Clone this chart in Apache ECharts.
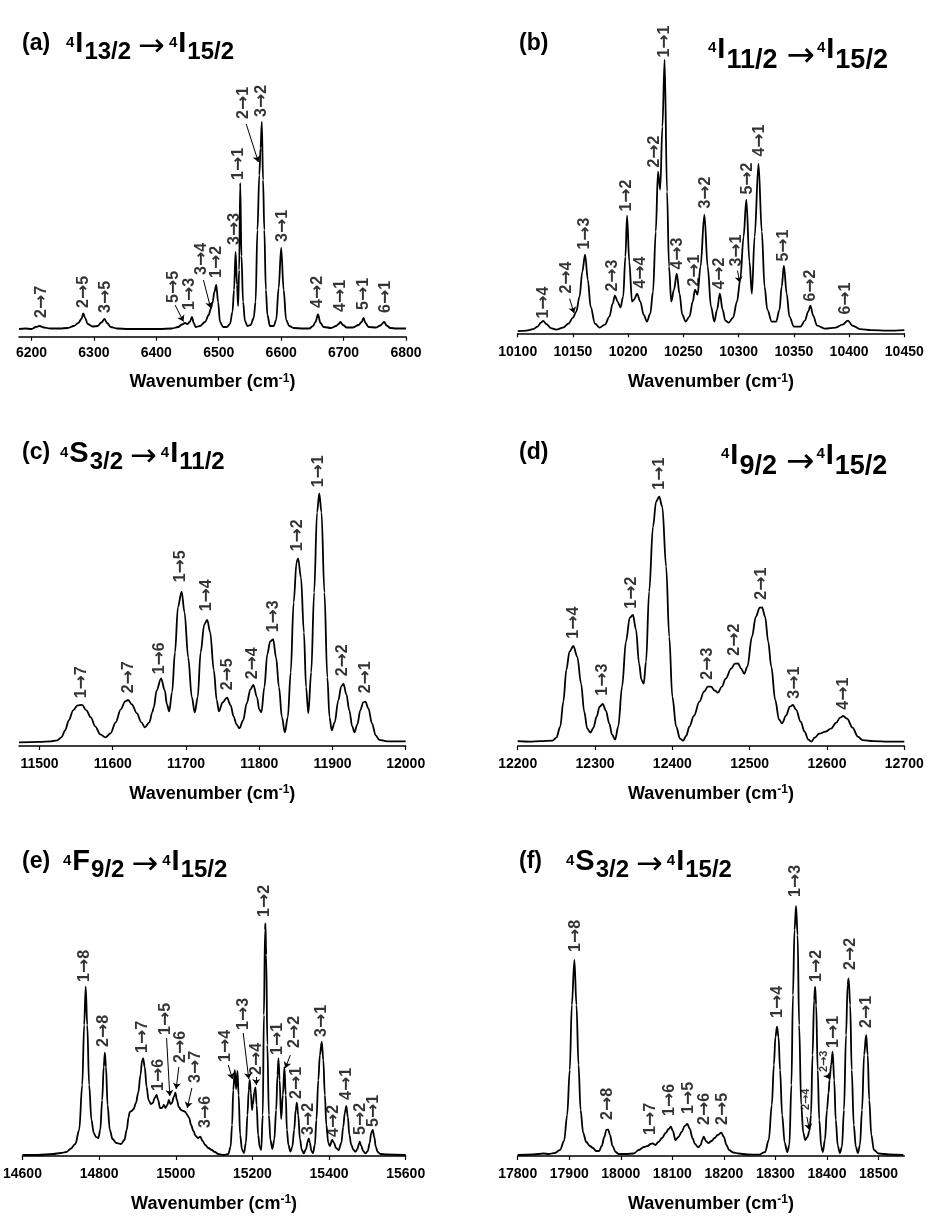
<!DOCTYPE html>
<html><head><meta charset="utf-8">
<script src="https://cdn.jsdelivr.net/npm/echarts@6/dist/echarts.min.js"></script>
<style>html,body{margin:0;padding:0;background:#fff}#c{width:932px;height:1228px}</style>
</head><body><div id="c"></div>
<script>
// ---------- DATA (wavenumber cm-1, intensity a.u.) ----------
const specA = [[6180,1],[6190,1.5],[6200,1],[6207,3],[6213,4],[6220,2.5],[6230,1.5],[6245,1.5],[6258,2],[6268,4],[6275,7],[6280,11],[6283,16.5],[6286,12],[6290,6],[6298,3.5],[6306,4],[6312,7.5],[6317,11],[6321,7],[6327,3],[6337,1.5],[6355,1],[6380,1],[6405,1],[6425,1.5],[6435,3],[6441,5.5],[6446,7],[6450,6],[6454,8.5],[6457,13],[6460,7],[6463,3],[6470,4],[6478,8],[6484,15],[6487,21],[6490,27],[6493,38],[6496,45],[6499,28],[6502,8],[6507,3],[6513,3],[6518,6],[6522,18],[6524.5,40],[6527,78],[6529.3,45],[6531,24],[6532.7,60],[6534.4,147],[6536.4,74],[6539,28],[6542,9],[6546,4],[6551,5],[6556,12],[6559,28],[6562,100],[6565,155],[6567,182],[6569,208],[6571,150],[6573,100],[6575.5,40],[6578,15],[6582,4],[6588,4],[6592,10],[6596,42],[6600,82],[6604,40],[6608,10],[6613,4],[6620,2],[6635,1.5],[6645,1.5],[6651,4],[6655,8],[6659,15.5],[6663,7],[6668,3],[6680,2],[6688,4],[6692,6],[6695,8],[6699,5],[6705,2.5],[6715,2.5],[6724,5],[6729,8],[6732,12],[6735,7],[6740,3],[6752,2.5],[6759,4.5],[6765,8],[6769,4.5],[6775,2],[6785,1.5],[6800,1.5]];
const specB = [[10100,0.5],[10108,1],[10114,2.5],[10118,5],[10121,9],[10123,10.7],[10126,7.5],[10130,3.5],[10135,2],[10141,4],[10146,8],[10150,14],[10153,20],[10156,35],[10158.5,60],[10161,77],[10163.5,52],[10166,25],[10170,8],[10174,4],[10179,7],[10183,15],[10186,28],[10188,36],[10190.5,30],[10193,24],[10195.5,35],[10197.5,75],[10199,116],[10201,70],[10203.5,30],[10205.5,32],[10208,38],[10211,30],[10214,17],[10217,10],[10220,18],[10222.5,40],[10225,100],[10227,160],[10229,142],[10231,205],[10233,272],[10235.2,140],[10237,65],[10239,30],[10241.5,42],[10244,58],[10246.5,38],[10249,17],[10252,10],[10255.5,15],[10258.5,30],[10260.5,42],[10262.8,37],[10265.5,65],[10269,117],[10272,65],[10275,25],[10278,10],[10280.5,22],[10283,38],[10285.5,22],[10288,11],[10291,9],[10295,14],[10298.5,30],[10301.5,52],[10304.5,95],[10307,132],[10309.8,70],[10312,38],[10314.5,95],[10318,168],[10321,100],[10323.5,45],[10326,22],[10330,10],[10334,10],[10337,22],[10339,45],[10341,66],[10343.5,38],[10346,15],[10350,5],[10356,5],[10360,11],[10363,20],[10365,26],[10367.5,16],[10371,6],[10378,3],[10388,4],[10394,7],[10399,11],[10403,6],[10410,2.5],[10420,1.5],[10435,1],[10450,1.5]];
const specC = [[11472,0],[11500,0.5],[11515,1],[11524,2],[11530,5],[11535,12],[11540,22],[11546,32],[11552,37],[11558,37.5],[11564,32],[11570,25],[11576,16],[11583,8],[11590,5],[11597,9],[11604,20],[11611,33],[11617,41],[11621,42.3],[11626,38],[11633,29],[11639,20],[11644,15],[11650,20],[11654,30],[11656,35],[11660,52],[11666,64],[11671,52],[11674,38],[11677,31],[11681,50],[11685,90],[11689,135],[11694,150.7],[11698,130],[11703,85],[11708,45],[11712,30],[11716,45],[11720,90],[11725,118],[11729,122.3],[11733,110],[11738,72],[11742,42],[11745,31],[11750,40],[11756,44.7],[11761,37],[11765,26],[11769,18],[11773,14],[11778,22],[11783,39],[11788,53],[11792,57.3],[11797,45],[11800,33],[11803,30],[11807,55],[11811,88],[11815,101],[11819,103],[11823,85],[11827,55],[11831,25],[11835,10],[11839,25],[11843,70],[11847,140],[11851,180],[11853,184],[11857,165],[11861,110],[11864,55],[11867,29],[11871,70],[11875,150],[11879,230],[11882,249],[11885,230],[11889,150],[11893,65],[11896,25],[11899,12],[11903,20],[11908,42],[11912,56],[11915,58.3],[11919,48],[11923,32],[11927,16],[11930,10],[11934,18],[11938,32],[11942,40],[11945,40.7],[11949,34],[11954,19],[11959,7],[11964,2.5],[11975,1],[12000,1]];
const specD = [[12200,0.5],[12215,0],[12230,0.5],[12245,1],[12250,4],[12255,15],[12259,40],[12263,72],[12267,90],[12272,95.7],[12277,85],[12282,58],[12286,30],[12290,13],[12294,9],[12298,14],[12302,25],[12306,35],[12310,37.7],[12314,31],[12318.5,18],[12322,7],[12326,2],[12330,15],[12335,55],[12340,100],[12345,124],[12349,126.7],[12353,112],[12357,78],[12360,62],[12363,58],[12366,80],[12370,150],[12375,215],[12379,240],[12383,245],[12387,235],[12392,175],[12396,105],[12400,45],[12405,15],[12410,3],[12414,1],[12418,6],[12422,15],[12428,26],[12435,40],[12441,50],[12446,55],[12450,55],[12455,51],[12459,49],[12464,55],[12469,63],[12476,73],[12481,78],[12485,78.3],[12489,73],[12493,68],[12497,75],[12503,105],[12508,125],[12513,134],[12516,134.3],[12520,125],[12524,100],[12528,75],[12533,42],[12538,22],[12542,18.3],[12547,26],[12552,35],[12556,36.7],[12560,32],[12566,20],[12571,10],[12576,2],[12580,0],[12584,4],[12590,8],[12598,10],[12605,13],[12612,19],[12617,24],[12621,25.7],[12626,23],[12633,14],[12640,5],[12646,1.5],[12660,0.5],[12680,0],[12700,0]];
const specE = [[14600,0],[14640,0],[14680,1],[14700,2],[14715,3],[14725,6],[14738,11],[14748,25],[14756,70],[14761,130],[14765,168.3],[14769,130],[14774,70],[14780,35],[14786,22],[14792,18],[14798,17],[14803,25],[14808,55],[14812,88],[14815,102.3],[14818,88],[14822,50],[14828,25],[14835,16],[14845,12],[14857,11],[14866,15],[14872,25],[14877,38],[14880,43],[14885,44],[14890,46],[14896,52],[14902,62],[14908,80],[14912,94],[14915,96.7],[14919,88],[14924,68],[14929,55],[14935,51],[14940,52],[14945,57],[14950,60],[14954,55],[14959,47],[14964,47],[14969,50],[14973,47],[14978,50],[14982,55],[14986,51],[14990,52],[14995,58],[14999,62.3],[15003,55],[15008,48],[15014,45],[15020,44],[15025,43],[15030,40],[15035,37],[15040,30],[15046,24],[15052,19],[15058,17],[15064,18.3],[15070,14],[15077,10],[15085,7],[15094,5],[15102,3],[15111,1],[15125,0],[15137,1],[15143,8],[15147,30],[15150,65],[15154,85],[15157.5,66],[15161,84],[15164,60],[15168,20],[15173,5],[15178,2],[15183,12],[15187,40],[15190.5,65],[15193,75],[15196,62],[15199,45],[15201,50],[15205,63],[15208,67.7],[15211,50],[15215,20],[15219,8],[15223,5],[15227,40],[15230,140],[15233,225],[15234,231.7],[15236,200],[15239,110],[15243,40],[15247,15],[15252,6],[15257,15],[15262,45],[15265.5,80],[15268,96.7],[15271,75],[15275,36],[15279.5,60],[15283.5,88],[15287,60],[15290,25],[15294,10],[15299,3.3],[15304,8],[15309,25],[15313,45],[15316,52.3],[15319.5,40],[15324,16],[15329,5],[15334,1.7],[15340,6],[15344,13],[15347,16.7],[15350,12],[15354,4],[15358,2],[15363,10],[15367,35],[15372,75],[15376,100],[15381,113.3],[15385,95],[15389,60],[15393,30],[15398,12],[15402,9],[15408,15],[15413,12],[15418,7],[15425,5],[15432,12],[15437,28],[15441,42],[15445,49],[15449,38],[15453,20],[15458,10],[15464,5],[15469,3.3],[15474,6],[15478,11],[15480,13.3],[15484,9],[15489,4],[15495,1.7],[15501,4],[15506,12],[15510,22],[15514,25],[15518,18],[15522,8],[15527,3],[15534,1],[15550,0.5],[15600,0]];
const specF = [[17800,0],[17830,0.5],[17850,1.5],[17860,1],[17872,2],[17882,5],[17890,14],[17896,40],[17901,85],[17905,150],[17910,195],[17914,150],[17918,90],[17922,45],[17927,22],[17933,13],[17940,9],[17946,7],[17952,4],[17958,4],[17963,9],[17968,18],[17972,25],[17975.5,25.7],[17979,20],[17984,9],[17990,3],[17996,1],[18010,1],[18025,1.5],[18035,5],[18045,8],[18052,9],[18058,11],[18062,11.7],[18067,10],[18073,13],[18080,17],[18087,22],[18093,26],[18097,28.3],[18101,24],[18106,15],[18112,18],[18118,23],[18124,29],[18129,31],[18134,26],[18139,17],[18144,11],[18150,7.7],[18155,10],[18158,15],[18161,18.3],[18165,14],[18170,12],[18176,14],[18182,17],[18188,20],[18195,22.3],[18200,18],[18205,10],[18210,5],[18218,2.5],[18229,1.5],[18245,0.5],[18268,0.3],[18280,3],[18287,15],[18293,50],[18297,90],[18300,118],[18303,128.3],[18306,118],[18309,85],[18313,40],[18318,12],[18323,3],[18327,10],[18331,70],[18334,160],[18337,225],[18340,249],[18343,220],[18346,130],[18350,50],[18354,22],[18358,15],[18362,18],[18366,24],[18369,40],[18372,100],[18375,155],[18377,168.3],[18379,150],[18382,85],[18385,35],[18389,8],[18392,3],[18396,15],[18400,45],[18403,62],[18405,75],[18408,90],[18411,103.3],[18414,75],[18417,35],[18421,9],[18425,2],[18429,8],[18433,45],[18437,120],[18440,170],[18442,176.7],[18445,150],[18448,85],[18452,30],[18456,8],[18460,2],[18464,10],[18468,45],[18472,100],[18476,120],[18479,100],[18482,55],[18486,20],[18491,5],[18500,1.5],[18520,0.5],[18548,0]];

// peak labels: [wavenumber, intensity at label foot, text]
const labelsA = [[6216,12,'2→7'],[6283,22,'2→5'],[6318,17,'3→5'],[6427,27,'5→5'],[6454,20,'1→3'],[6473,55,'3→4'],[6497,52,'1→2'],[6526,85,'3→3'],[6532,150,'1→1'],[6540,211,'2→1'],[6569,213,'3→2'],[6602,88,'3→1'],[6659,22,'4→2'],[6695,18,'4→1'],[6732,20,'5→1'],[6767,17,'6→1']];
const labelsB = [[10123,13,'1→4'],[10144,38,'2→4'],[10161,82,'1→3'],[10186,40,'2→3'],[10199,120,'1→2'],[10211,43,'4→4'],[10224,164,'2→2'],[10233,274,'1→1'],[10245,62,'4→3'],[10260,45,'2→1'],[10270,123,'3→2'],[10283,42,'4→2'],[10298,65,'3→1'],[10308,137,'5→2'],[10319,175,'4→1'],[10341,70,'5→1'],[10365,30,'6→2'],[10397,17,'6→1']];
const labelsC = [[11558,44,'1→7'],[11621,49,'2→7'],[11664,68,'1→6'],[11692,160,'1→5'],[11728,131,'1→4'],[11757,52,'2→5'],[11791,63,'2→4'],[11819,110,'1→3'],[11853,191,'1→2'],[11881,255,'1→1'],[11914,66,'2→2'],[11945,49,'2→1']];
const labelsD = [[12272,103,'1→4'],[12310,46,'1→3'],[12347,133,'1→2'],[12383,252,'1→1'],[12446,62,'2→3'],[12480,86,'2→2'],[12516,142,'2→1'],[12558,43,'3→1'],[12622,32,'4→1']];
const labelsE = [[14762,173,'1→8'],[14811,108,'2→8'],[14913,102,'1→7'],[14954,64,'1→6'],[14973,120,'1→5'],[15012,92,'2→6'],[15051,72,'3→7'],[15077,27,'3→6'],[15130,93,'1→4'],[15178,125,'1→3'],[15210,80,'2→4'],[15232,238,'1→2'],[15266,100,'1→1'],[15309,107,'2→2'],[15316,56,'2→1'],[15347,20,'3→2'],[15381,118,'3→1'],[15411,18,'4→2'],[15446,55,'4→1'],[15482,20,'5→2'],[15516,28,'5→1']];
const labelsF = [[17913,203,'1→8'],[17974,35,'2→8'],[18058,20,'1→7'],[18095,39,'1→6'],[18131,41,'1→5'],[18163,30,'2→6'],[18198,30,'2→5'],[18305,137,'1→4'],[18340,258,'1→3'],[18379,173,'1→2'],[18413,107,'1→1'],[18445,185,'2→2'],[18477,127,'2→1']];
const minorLabelsF = [[18359,45,'2→4'],[18395,83,'2→3']];

// pointer arrows: [from x, from y, to x, to y]
const arrowsA = [[6430,25,6443.5,8.5],[6475.5,50,6487,22],[6544,206,6563.5,168]];
const arrowsB = [[10147,33,10151,18.5],[10299,61,10301,49]];
const arrowsC = [];
const arrowsD = [];
const arrowsE = [[14976,117,14984.5,59],[15008,88,15001,66],[15042,67,15030,47],[15137,90,15148,76],[15176,122,15190.5,76],[15210,78,15210,70],[15299,100,15286,87]];
const arrowsF = [[18361,38,18366,25],[18400,80,18405,76]];

// axis ticks and extents
const ticksA = [6200,6300,6400,6500,6600,6700,6800];
const ticksB = [10100,10150,10200,10250,10300,10350,10400,10450];
const ticksC = [11500,11600,11700,11800,11900,12000];
const ticksD = [12200,12300,12400,12500,12600,12700];
const ticksE = [14600,14800,15000,15200,15400,15600];
const ticksF = [17800,17900,18000,18100,18200,18300,18400,18500];
const xRangeA = [6180,6800], xRangeB = [10100,10450], xRangeC = [11472,12000];
const xRangeD = [12200,12700], xRangeE = [14600,15600], xRangeF = [17800,18550];

const tags = ['(a)','(b)','(c)','(d)','(e)','(f)'];
const transitions = [
  '{sup|4}{big|I}{sub|13/2}{arr|→}{sup|4}{big|I}{sub|15/2}',
  '{sup|4}{big|I}{sub|11/2}{arr|→}{sup|4}{big|I}{sub|15/2}',
  '{sup|4}{big|S}{sub|3/2}{arr|→}{sup|4}{big|I}{sub|11/2}',
  '{sup|4}{big|I}{sub|9/2}{arr|→}{sup|4}{big|I}{sub|15/2}',
  '{sup|4}{big|F}{sub|9/2}{arr|→}{sup|4}{big|I}{sub|15/2}',
  '{sup|4}{big|S}{sub|3/2}{arr|→}{sup|4}{big|I}{sub|15/2}'
];
const axisTitle = '{n|Wavenumber (cm}{s|-1}{n|)}';

// ---------- LAYOUT (pixels) ----------
const FONT = '"Liberation Sans", Arial, "DejaVu Sans", sans-serif';
const layout = [
  {left:19,    width:387,   axisY:336.7, yMin:-6.7, yMax:230, nameGap:32.6, margin:9,  tag:[22,33],   tr:[66,24.6], wide:false},
  {left:517.7, width:386.6, axisY:333.3, yMin:-1.7, yMax:290, nameGap:36,   margin:12, tag:[519,33],  tr:[708,30],  wide:true},
  {left:19,    width:386.7, axisY:746,   yMin:-3.7, yMax:270, nameGap:35,   margin:11, tag:[22,442],  tr:[60,434.6], wide:false},
  {left:517.7, width:386.6, axisY:746,   yMin:-4.3, yMax:270, nameGap:35,   margin:11, tag:[519,442], tr:[721,436], wide:true},
  {left:19,    width:386.7, axisY:1156,  yMin:-1,   yMax:250, nameGap:35,   margin:11, tag:[22,851],  tr:[63,842.6], wide:false},
  {left:517.7, width:386.6, axisY:1156,  yMin:-1,   yMax:270, nameGap:35,   margin:11, tag:[519,851], tr:[566,842.6], wide:false}
];
const specs = [specA,specB,specC,specD,specE,specF];
const labelSets = [labelsA,labelsB,labelsC,labelsD,labelsE,labelsF];
const arrowSets = [arrowsA,arrowsB,arrowsC,arrowsD,arrowsE,arrowsF];
const tickSets = [ticksA,ticksB,ticksC,ticksD,ticksE,ticksF];
const ranges = [xRangeA,xRangeB,xRangeC,xRangeD,xRangeE,xRangeF];

const ARROWFONT = '"DejaVu Sans", sans-serif';
// line box 40px (44px wide variant); glyphs bottom-aligned with padding-bottom offsets
const richTr = {
  sup:{fontSize:15, lineHeight:40, fontWeight:'bold', fontFamily:FONT, color:'#000', verticalAlign:'bottom', padding:[0,0,14,0]},
  big:{fontSize:29, lineHeight:40, fontWeight:'bold', fontFamily:FONT, color:'#000', verticalAlign:'bottom', padding:[0,1,6,1]},
  sub:{fontSize:24, lineHeight:40, fontWeight:'bold', fontFamily:FONT, color:'#000', verticalAlign:'bottom', padding:[0,0,0,0]},
  arr:{fontSize:32, lineHeight:40, fontWeight:'normal', fontFamily:ARROWFONT, color:'#000', verticalAlign:'bottom', padding:[0,4,1,7]}
};
const richTrWide = {
  sup:{fontSize:15, lineHeight:44, fontWeight:'bold', fontFamily:FONT, color:'#000', verticalAlign:'bottom', padding:[0,0,19,0]},
  big:{fontSize:29, lineHeight:44, fontWeight:'bold', fontFamily:FONT, color:'#000', verticalAlign:'bottom', padding:[0,1,10,1]},
  sub:{fontSize:27, lineHeight:44, fontWeight:'bold', fontFamily:FONT, color:'#000', verticalAlign:'bottom', padding:[0,0,0,0]},
  arr:{fontSize:34, lineHeight:44, fontWeight:'normal', fontFamily:ARROWFONT, color:'#000', verticalAlign:'bottom', padding:[0,2,0,9]}
};
const richName = {
  n:{fontSize:18, lineHeight:22, fontWeight:'bold', fontFamily:FONT, color:'#000', verticalAlign:'bottom'},
  s:{fontSize:12, lineHeight:22, fontWeight:'bold', fontFamily:FONT, color:'#000', verticalAlign:'bottom', padding:[0,0,7,0]}
};
const richPeak = (d, a) => ({
  d:{fontSize:d, fontWeight:'bold', fontFamily:FONT, color:'#000', textBorderWidth:0},
  a:{fontSize:a, fontWeight:'bold', fontFamily:ARROWFONT, color:'#000', textBorderWidth:0}
});
const peakFmt = p => { const s = p.name.split('→'); return '{d|' + s[0] + '}{a|→}{d|' + s[1] + '}'; };

const grid=[], xAxis=[], yAxis=[], series=[], title=[];
layout.forEach((L,i)=>{
  const h = L.yMax - L.yMin;
  grid.push({left:L.left, width:L.width, top:L.axisY - h, height:h, containLabel:false});
  xAxis.push({type:'value', gridIndex:i, min:ranges[i][0], max:ranges[i][1],
    axisLine:{show:true, onZero:false, lineStyle:{color:'#000', width:1.5}},
    axisTick:{show:true, length:4, inside:false, customValues:tickSets[i], lineStyle:{color:'#000', width:1.2}},
    axisLabel:{show:true, customValues:tickSets[i], margin:L.margin, color:'#000', fontSize:14, fontWeight:'bold', fontFamily:FONT, formatter:v=>String(v)},
    splitLine:{show:false},
    name:axisTitle, nameLocation:'middle', nameGap:L.nameGap,
    nameTextStyle:{fontFamily:FONT, fontWeight:'bold', fontSize:18, color:'#000', rich:richName}
  });
  yAxis.push({type:'value', gridIndex:i, min:L.yMin, max:L.yMax, show:false});
  series.push({type:'line', xAxisIndex:i, yAxisIndex:i, data:specs[i], showSymbol:false, symbol:'none',
    smooth:0.35, smoothMonotone:'x', lineStyle:{color:'#000', width:1.8}, silent:true, clip:false});
  const lbl = (d,a)=>({show:true, formatter:peakFmt, position:'inside', rotate:90, align:'left', verticalAlign:'middle',
      textBorderWidth:0, textBorderColor:'transparent', color:'#000', rich:richPeak(d,a)});
  series.push({type:'scatter', xAxisIndex:i, yAxisIndex:i, symbolSize:1, itemStyle:{color:'rgba(0,0,0,0)'}, clip:false, silent:true,
    data:labelSets[i].map(l=>({value:[l[0],l[1]], name:l[2]})), label:lbl(16,17),
    markLine:{silent:true, symbol:['none','arrow'], symbolSize:6, label:{show:false},
      lineStyle:{color:'#000', width:1, type:'solid'},
      data:arrowSets[i].map(a=>[{coord:[a[0],a[1]]},{coord:[a[2],a[3]]}])}
  });
  if (i===5) {
    series.push({type:'scatter', xAxisIndex:i, yAxisIndex:i, symbolSize:1, itemStyle:{color:'rgba(0,0,0,0)'}, clip:false, silent:true,
      data:minorLabelsF.map(l=>({value:[l[0],l[1]], name:l[2]})), label:lbl(11,11)});
  }
  title.push({text:tags[i], left:L.tag[0], top:L.tag[1], padding:0,
    textStyle:{fontFamily:FONT, fontWeight:'bold', fontSize:23, lineHeight:22, color:'#000'}});
  title.push({text:transitions[i], left:L.tr[0], top:L.tr[1], padding:0,
    textStyle:{fontFamily:FONT, fontWeight:'bold', fontSize:22, color:'#000', rich:L.wide ? richTrWide : richTr}});
});

const chart = echarts.init(document.getElementById('c'), null, {renderer:'canvas'});
chart.setOption({animation:false, backgroundColor:'#fff', title, grid, xAxis, yAxis, series});
</script></body></html>
